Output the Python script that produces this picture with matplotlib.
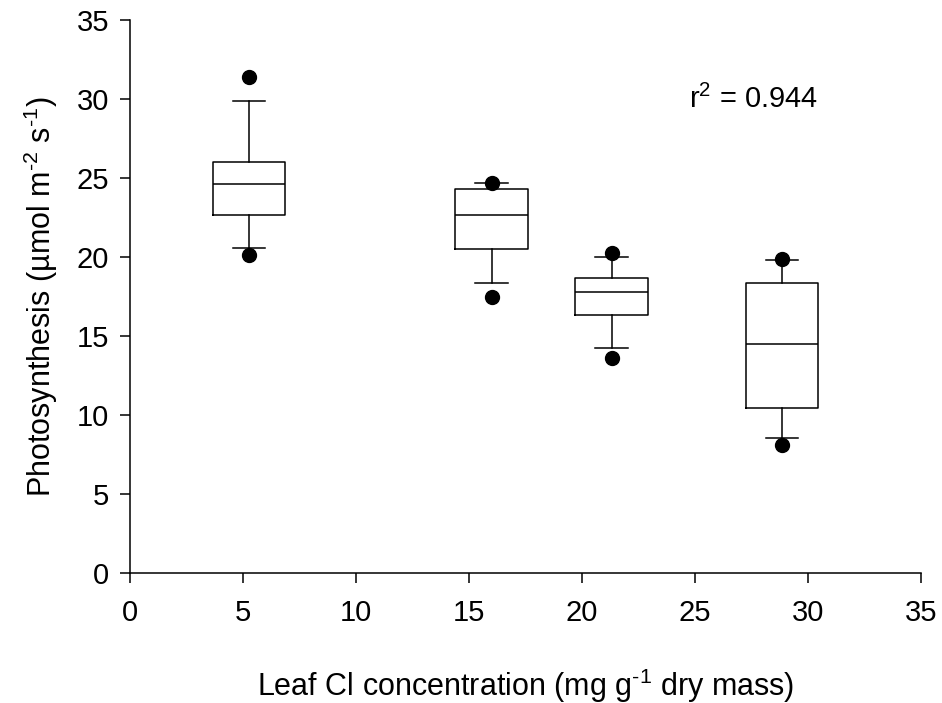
import matplotlib
matplotlib.use("Agg")
import matplotlib.pyplot as plt

plt.rcParams['font.family'] = ['Liberation Sans', 'DejaVu Sans']
plt.rcParams['mathtext.fontset'] = 'custom'
plt.rcParams['mathtext.rm'] = 'Liberation Sans'
plt.rcParams['mathtext.it'] = 'Liberation Sans'
plt.rcParams['mathtext.default'] = 'regular'

# Data
positions = [5.27, 16.0, 21.31, 28.86]
medians = [24.65, 22.68, 17.77, 14.50]
q1 = [22.64, 20.53, 16.32, 10.44]
q3 = [26.02, 24.33, 18.66, 18.37]
whisker_low = [20.55, 18.33, 14.25, 8.54]
whisker_high = [29.87, 24.69, 19.99, 19.80]
outlier_low = [20.12, 17.44, 13.61, 8.12]
outlier_high = [31.37, 24.71, 20.27, 19.85]
x_ticks = [0, 5, 10, 15, 20, 25, 30, 35]
y_ticks = [0, 5, 10, 15, 20, 25, 30, 35]
r2_text = "r$^2$ = 0.944"

stats = []
for i in range(len(positions)):
    stats.append(dict(med=medians[i], q1=q1[i], q3=q3[i],
                      whislo=whisker_low[i], whishi=whisker_high[i],
                      fliers=[outlier_low[i], outlier_high[i]]))

fig = plt.figure(figsize=(9.42, 7.03), dpi=100)
ax = fig.add_axes([130/942, 130/703, 791/942, 553/703])

lw = 1.1
ax.bxp(stats, positions=positions, widths=3.2, capwidths=1.43,
       manage_ticks=False, patch_artist=False,
       boxprops=dict(color='black', linewidth=lw),
       medianprops=dict(color='black', linewidth=lw),
       whiskerprops=dict(color='black', linewidth=lw),
       capprops=dict(color='black', linewidth=lw),
       flierprops=dict(marker='o', markerfacecolor='black',
                       markeredgecolor='black', markersize=10, linestyle='none'))

ax.set_xlim(0, 35)
ax.set_ylim(0, 35)
ax.set_xticks(x_ticks)
ax.set_yticks(y_ticks)
ax.set_xticklabels([str(t) for t in x_ticks])
ax.set_yticklabels([str(t) for t in y_ticks])
ax.spines['top'].set_visible(False)
ax.spines['right'].set_visible(False)
ax.spines['left'].set_linewidth(1.1)
ax.spines['bottom'].set_linewidth(1.1)
ax.tick_params(direction='out', length=7, width=1.1, labelsize=21)
ax.tick_params(axis='x', pad=12)
ax.tick_params(axis='y', pad=8)

ax.set_xlabel(r"Leaf Cl concentration (mg g$^{\text{-}1}$ dry mass)", fontsize=22, labelpad=28)
ax.set_ylabel(r"Photosynthesis (µmol m$^{\text{-}2}$ s$^{\text{-}1}$)", fontsize=22, labelpad=12)

ax.text(24.75, 30, r2_text, fontsize=21, ha='left', va='center')

fig.savefig("out.png", dpi=100)
